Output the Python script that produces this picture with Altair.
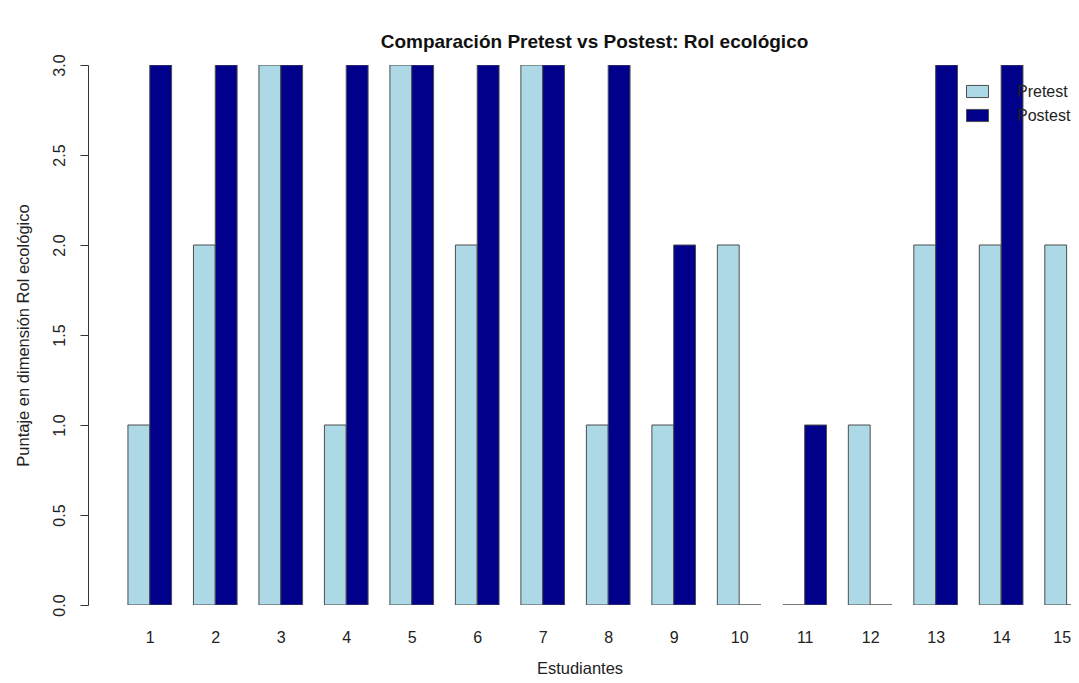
import altair as alt
import pandas as pd

students = list(range(1, 16))
pretest = [1, 2, 3, 1, 3, 2, 3, 1, 1, 2, 0, 1, 2, 2, 2]
postest = [3, 3, 3, 3, 3, 3, 3, 3, 2, 0, 1, 0, 3, 3, 0]
groups = ["Pretest", "Postest"]
colors = ["#ADD8E6", "#00008B"]
y_ticks = [0, 0.5, 1, 1.5, 2, 2.5, 3]

df = pd.DataFrame({"Estudiante": students, "Pretest": pretest, "Postest": postest})

FONT = "Liberation Sans"
last_pos = 3 * students[-1] - 1

chart = (
    alt.Chart(df)
    .transform_fold(groups, as_=["Prueba", "Puntaje"])
    .transform_calculate(
        u0="3*(datum.Estudiante-1) + 1 + (datum.Prueba == 'Postest' ? 1 : 0)",
        u1="3*(datum.Estudiante-1) + 2 + (datum.Prueba == 'Postest' ? 1 : 0)",
    )
    .mark_bar(clip=True, stroke="#4d4d4d", strokeWidth=1)
    .encode(
        x=alt.X(
            "u0:Q",
            scale=alt.Scale(domain=[-0.83, 44.2], nice=False, zero=False),
            axis=alt.Axis(
                values=[3 * s - 1 for s in students],
                labelExpr="format((datum.value + 1) / 3, 'd')",
                ticks=False,
                domain=False,
                grid=False,
                labelAngle=0,
                labelPadding=24,
                labelFontSize=16,
                labelFlush=False,
                labelOverlap=False,
                labelOffset={"condition": {"test": f"datum.value == {last_pos}", "value": -5}, "value": 0},
                title="Estudiantes",
                titleFontSize=16.5,
                titleFontWeight="normal",
                titlePadding=15,
                labelColor="#222222",
                titleColor="#222222",
                labelFont=FONT,
                titleFont=FONT,
            ),
        ),
        x2="u1:Q",
        y=alt.Y(
            "Puntaje:Q",
            scale=alt.Scale(domain=[0, 3], nice=False),
            axis=alt.Axis(
                values=y_ticks,
                format=".1f",
                grid=False,
                labelAngle=-90,
                labelAlign="center",
                labelBaseline="bottom",
                labelPadding=13,
                tickSize=8,
                tickColor="#333333",
                domainColor="#333333",
                labelFontSize=16,
                labelColor="#222222",
                title="Puntaje en dimensión Rol ecológico",
                titleFontSize=16.5,
                titleFontWeight="normal",
                titleColor="#222222",
                titlePadding=20,
                labelFont=FONT,
                titleFont=FONT,
            ),
        ),
        y2=alt.datum(0),
        color=alt.Color(
            "Prueba:N",
            scale=alt.Scale(domain=groups, range=colors),
            legend=alt.Legend(
                title=None,
                orient="none",
                legendX=878,
                legendY=15,
                symbolType="M-1,-0.55L1,-0.55L1,0.55L-1,0.55Z",
                symbolSize=484,
                symbolStrokeColor="#4d4d4d",
                symbolStrokeWidth=1,
                symbolOpacity=1,
                labelFontSize=16,
                labelFont=FONT,
                labelColor="#222222",
                labelOffset=28,
                rowPadding=4,
            ),
        ),
    )
    .properties(
        width=983,
        height=540,
        padding={"left": 80, "top": 57, "right": 0, "bottom": 70},
        autosize=alt.AutoSizeParams(type="none"),
        title=alt.TitleParams(
            "Comparación Pretest vs Postest: Rol ecológico",
            fontSize=19,
            fontWeight="bold",
            font=FONT,
            anchor="middle",
            dx=15,
            offset=2,
            color="#111111",
        ),
    )
    .configure_view(stroke=None)
)

chart.save("out.html", embed_options={"renderer": "svg", "actions": False})
